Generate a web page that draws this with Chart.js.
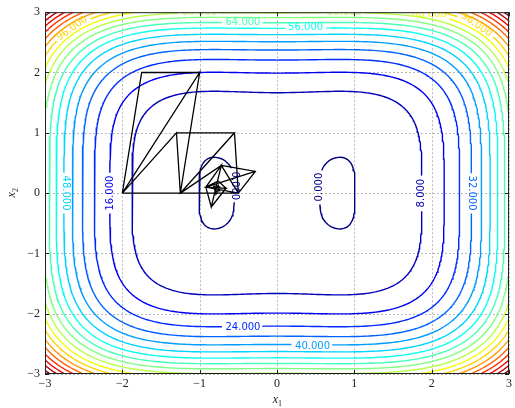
<!DOCTYPE html>
<html>
<head>
<meta charset="utf-8">
<script src="https://cdn.jsdelivr.net/npm/chart.js@4.4.0/dist/chart.umd.min.js"></script>
<style>html,body{margin:0;padding:0;background:#fff}</style>
</head>
<body>
<canvas id="contourChart" width="515" height="408"></canvas>
<script>
// ------ data ------//
var levels = [0, 8, 16, 24, 32, 40, 48, 56, 64, 72, 80, 88, 96, 104, 112, 120, 128, 136, 144]
var ticksX = [-3, -2, -1, 0, 1, 2, 3]
var ticksY = [-3, -2, -1, 0, 1, 2, 3]
// field: f = x1^4 - a*x1^2 + x2^4 + c
var coefA = 1.32
var coefC = 0.31

// simplex triangles (x1 / x2 of each corner)
var simplexX = [
	[-2, -1.75, -1], [-2, -1, -1.25], [-2, -1.3, -1.25], [-1.3, -0.55, -1.25],
	[-0.55, -1.25, -0.5], [-1.25, -0.5, -0.72], [-0.5, -0.72, -0.28], [-0.5, -0.72, -0.92],
	[-0.28, -0.92, -0.5], [-0.92, -0.72, -0.85], [-0.92, -0.85, -0.66], [-0.92, -0.66, -0.76],
	[-0.82, -0.74, -0.79], [-0.8, -0.76, -0.74]
]
var simplexY = [
	[0, 2, 2], [0, 2, 0], [0, 1, 0], [1, 1, 0],
	[1, 0, 0], [0, 0, 0.46], [0, 0.46, 0.36], [0, 0.46, 0.1],
	[0.36, 0.1, 0], [0.1, 0.46, -0.23], [0.1, -0.23, 0.08], [0.1, 0.08, 0.2],
	[0.12, 0.1, -0.02], [0.03, 0.13, 0.04]
]

// inline contour labels
var labelLevel = [0, 0, 8, 16, 24, 32, 40, 48, 56, 64, 80, 80, 88, 96, 96]
var labelX = [-0.55, 0.55, 1.87, -2.16, -0.44, 2.52, 0.46, -2.74, 0.37, -0.44, -1.0, 0.87, 1.97, -2.65, 2.58]
var labelY = [0.12, 0.1, 0, 0, -2.23, 0, -2.55, 0, 2.74, 2.83, 2.99, 2.99, 2.97, 2.73, 2.79]
var labelRot = [90, -90, -90, -90, 0, 90, 0, 90, 0, 0, 0, 0, 0, -35, 35]

// ------ helpers ------//
function jet(t) {
	function c(v) { return Math.max(0, Math.min(1, v)) }
	var r = c(1.5 - Math.abs(4 * t - 3)), g = c(1.5 - Math.abs(4 * t - 2)), b = c(1.5 - Math.abs(4 * t - 1))
	return 'rgb(' + Math.round(r * 255) + ',' + Math.round(g * 255) + ',' + Math.round(b * 255) + ')'
}
function levelColor(l) { return jet((l - levels[0]) / (levels[levels.length - 1] - levels[0])) }
function field(x, y) { return x * x * x * x - coefA * x * x + y * y * y * y + coefC }
function fmtTick(v) { return v < 0 ? '\u2212' + (-v) : '' + v }

var LABEL_FONT = '10px "DejaVu Sans"'
var measure = document.createElement('canvas').getContext('2d')
measure.font = LABEL_FONT

// grid of the field
var N = 160, lo = -3, hi = 3, h = (hi - lo) / N
var grid = []
for (var i = 0; i <= N; i++) {
	grid.push([])
	for (var j = 0; j <= N; j++) grid[i].push(field(lo + i * h, lo + j * h))
}

// marching squares, then chain segments into polylines
function contourLines(level) {
	var segs = []
	for (var i = 0; i < N; i++) {
		for (var j = 0; j < N; j++) {
			var a = grid[i][j], b = grid[i + 1][j], c = grid[i + 1][j + 1], d = grid[i][j + 1]
			var x0 = lo + i * h, y0 = lo + j * h, x1 = x0 + h, y1 = y0 + h
			var pts = []
			function edge(key, v1, v2, ax, ay, bx, by) {
				if ((v1 < level) !== (v2 < level)) {
					var t = (level - v1) / (v2 - v1)
					pts.push({ k: key, x: ax + t * (bx - ax), y: ay + t * (by - ay) })
				}
			}
			edge('h' + i + '_' + j, a, b, x0, y0, x1, y0)
			edge('v' + (i + 1) + '_' + j, b, c, x1, y0, x1, y1)
			edge('h' + i + '_' + (j + 1), d, c, x0, y1, x1, y1)
			edge('v' + i + '_' + j, a, d, x0, y0, x0, y1)
			if (pts.length == 2) segs.push([pts[0], pts[1]])
			else if (pts.length == 4) { segs.push([pts[0], pts[1]]); segs.push([pts[2], pts[3]]) }
		}
	}
	var adj = {}, used = []
	segs.forEach(function (s, n) {
		used.push(false)
		s.forEach(function (p) { (adj[p.k] = adj[p.k] || []).push(n) })
	})
	function extend(line) {
		while (true) {
			var last = line[line.length - 1]
			var nx = (adj[last.k] || []).find(function (m) { return !used[m] })
			if (nx === undefined) break
			used[nx] = true
			var s = segs[nx]
			line.push(s[0].k === last.k ? s[1] : s[0])
		}
	}
	var lines = []
	for (var n = 0; n < segs.length; n++) {
		if (used[n]) continue
		used[n] = true
		var line = [segs[n][0], segs[n][1]]
		extend(line)
		line.reverse()
		extend(line)
		lines.push(line)
	}
	return lines
}

// ------ datasets ------//
var datasets = []

var pathData = []
simplexX.forEach(function (tx, n) {
	var ty = simplexY[n]
	for (var k = 0; k <= 3; k++) pathData.push({ x: tx[k % 3], y: ty[k % 3] })
	pathData.push({ x: NaN, y: NaN })
})
datasets.push({
	data: pathData, showLine: true, borderColor: '#000', borderWidth: 1.3,
	pointRadius: 0, spanGaps: false, order: 0
})

levels.forEach(function (lev) {
	var gaps = []
	labelLevel.forEach(function (l, n) {
		if (l === lev) gaps.push({ x: labelX[n], y: labelY[n], r: measure.measureText(lev.toFixed(3)).width / 2 + 2 })
	})
	var data = []
	contourLines(lev).forEach(function (line) {
		line.forEach(function (p) {
			var hide = gaps.some(function (g) {
				var dx = (p.x - g.x) * 78, dy = (p.y - g.y) * 60.5
				return Math.sqrt(dx * dx + dy * dy) < g.r
			})
			data.push(hide ? { x: NaN, y: NaN } : { x: p.x, y: p.y })
		})
		data.push({ x: NaN, y: NaN })
	})
	datasets.push({
		data: data, showLine: true, borderColor: levelColor(lev), borderWidth: 1.4,
		pointRadius: 0, spanGaps: false, order: 1
	})
})

// ------ plugins ------//
var backdrop = {
	id: 'backdrop',
	beforeDatasetsDraw: function (chart) {
		var c = chart.ctx, a = chart.chartArea, sx = chart.scales.x, sy = chart.scales.y
		c.save()
		c.strokeStyle = '#a8a8a8'
		c.lineWidth = 0.8
		c.setLineDash([2, 2])
		ticksX.forEach(function (v) {
			var px = Math.round(sx.getPixelForValue(v)) + 0.5
			c.beginPath(); c.moveTo(px, a.top); c.lineTo(px, a.bottom); c.stroke()
		})
		ticksY.forEach(function (v) {
			var py = Math.round(sy.getPixelForValue(v)) + 0.5
			c.beginPath(); c.moveTo(a.left, py); c.lineTo(a.right, py); c.stroke()
		})
		c.restore()
	}
}

var overlay = {
	id: 'overlay',
	afterDatasetsDraw: function (chart) {
		var c = chart.ctx, a = chart.chartArea, sx = chart.scales.x, sy = chart.scales.y
		// contour labels
		c.save()
		c.beginPath(); c.rect(a.left, a.top, a.right - a.left, a.bottom - a.top); c.clip()
		c.font = LABEL_FONT
		c.textAlign = 'center'
		c.textBaseline = 'middle'
		labelLevel.forEach(function (l, n) {
			c.save()
			c.translate(sx.getPixelForValue(labelX[n]), sy.getPixelForValue(labelY[n]))
			c.rotate(labelRot[n] * Math.PI / 180)
			c.fillStyle = levelColor(l)
			c.fillText(l.toFixed(3), 0, 0)
			c.restore()
		})
		c.restore()

		// frame and inward ticks
		c.save()
		c.strokeStyle = '#222'
		c.lineWidth = 1
		c.strokeRect(a.left + 0.5, a.top + 0.5, a.right - a.left - 1, a.bottom - a.top - 1)
		c.beginPath()
		ticksX.forEach(function (v) {
			var px = Math.round(sx.getPixelForValue(v)) + 0.5
			c.moveTo(px, a.bottom); c.lineTo(px, a.bottom - 4)
			c.moveTo(px, a.top); c.lineTo(px, a.top + 4)
		})
		ticksY.forEach(function (v) {
			var py = Math.round(sy.getPixelForValue(v)) + 0.5
			c.moveTo(a.left, py); c.lineTo(a.left + 4, py)
			c.moveTo(a.right, py); c.lineTo(a.right - 4, py)
		})
		c.stroke()

		// axis titles
		c.fillStyle = '#222'
		c.textBaseline = 'alphabetic'
		var cx = (a.left + a.right) / 2
		c.font = 'italic 12px "Liberation Serif"'
		c.textAlign = 'right'
		c.fillText('x', cx + 1, 403)
		c.font = '8px "Liberation Serif"'
		c.textAlign = 'left'
		c.fillText('1', cx + 1, 406)
		var cy = (a.top + a.bottom) / 2
		c.translate(15, cy)
		c.rotate(-Math.PI / 2)
		c.font = 'italic 12px "Liberation Serif"'
		c.textAlign = 'right'
		c.fillText('x', 1, 0)
		c.font = '8px "Liberation Serif"'
		c.textAlign = 'left'
		c.fillText('2', 1, 3)
		c.restore()
	}
}

var tickFont = { family: '"Liberation Serif"', size: 12 }

var ctx = document.getElementById('contourChart')
var myChart = new Chart(ctx, {
	type: 'scatter',
	data: { datasets: datasets },
	options: {
		responsive: false,
		animation: false,
		events: [],
		layout: { padding: { top: 10, right: 2, left: 0, bottom: 0 } },
		plugins: { legend: { display: false }, tooltip: { enabled: false } },
		scales: {
			x: {
				type: 'linear', min: -3, max: 3,
				afterBuildTicks: function (s) { s.ticks = ticksX.map(function (v) { return { value: v } }) },
				afterFit: function (s) { s.height = 34 },
				ticks: { font: tickFont, color: '#222', padding: 3, maxRotation: 0, callback: fmtTick },
				grid: { display: false, drawTicks: false },
				border: { display: false }
			},
			y: {
				type: 'linear', min: -3, max: 3,
				afterBuildTicks: function (s) { s.ticks = ticksY.map(function (v) { return { value: v } }) },
				afterFit: function (s) { s.width = 45 },
				ticks: { font: tickFont, color: '#222', padding: 5, callback: fmtTick },
				grid: { display: false, drawTicks: false },
				border: { display: false }
			}
		}
	},
	plugins: [backdrop, overlay]
})
</script>
</body>
</html>
